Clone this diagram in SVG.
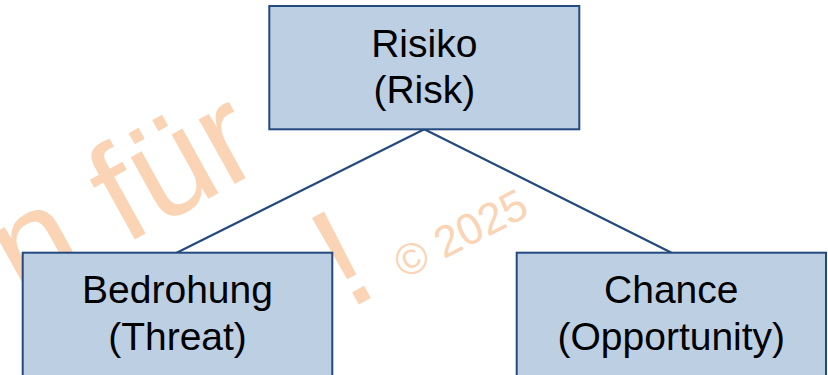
<svg xmlns="http://www.w3.org/2000/svg" width="828" height="375" viewBox="0 0 828 375">
<style>
.wm{font-family:"Liberation Sans",Arial,sans-serif;fill:#FAD4B4}
.box{fill:#BDCFE3;stroke:#24497F;stroke-width:2}
.lbl{font-family:"Liberation Sans",Arial,sans-serif;font-size:39px;fill:#000;text-anchor:middle}
.conn{stroke:#24497F;stroke-width:2.2;fill:none}
</style>
<rect width="828" height="375" fill="#FFFFFF"/>
<g id="watermark">
<text class="wm" font-size="140" transform="translate(22 302) rotate(-29)">n für</text>
<text class="wm" font-size="143" transform="translate(347.5 310.7) rotate(-28.5)">!</text>
<text class="wm" font-size="44" transform="translate(404 279.4) rotate(-27)">© 2025</text>
</g>
<g id="connectors">
<line class="conn" x1="424.3" y1="129.3" x2="176.7" y2="252.7"/>
<line class="conn" x1="424.3" y1="129.3" x2="671.5" y2="252.7"/>
</g>
<g id="risiko">
<rect class="box" x="269.3" y="6" width="310" height="123.3"/>
<text class="lbl" x="424.3" y="57">Risiko</text>
<text class="lbl" x="424.3" y="102.5">(Risk)</text>
</g>
<g id="bedrohung">
<rect class="box" x="22.7" y="252.7" width="309.6" height="140"/>
<text class="lbl" x="177.5" y="303.3">Bedrohung</text>
<text class="lbl" x="177.5" y="350">(Threat)</text>
</g>
<g id="chance">
<rect class="box" x="516.7" y="252.7" width="309.3" height="140"/>
<text class="lbl" x="671.3" y="303.3">Chance</text>
<text class="lbl" x="671.3" y="350">(Opportunity)</text>
</g>
</svg>
